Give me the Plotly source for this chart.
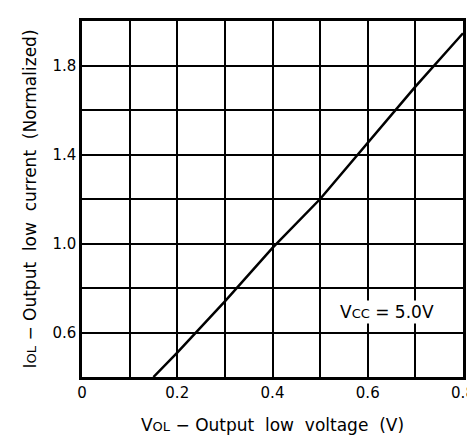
import plotly.graph_objects as go

# Data
vol = [0.15, 0.2, 0.3, 0.4, 0.5, 0.6, 0.7, 0.8]
iol = [0.40, 0.51, 0.74, 0.98, 1.20, 1.455, 1.705, 1.945]

x_tickvals = [0, 0.1, 0.2, 0.3, 0.4, 0.5, 0.6, 0.7, 0.8]
x_ticktext = ["0", "", "0.2", "", "0.4", "", "0.6", "", "0.8"]
y_tickvals = [0.4, 0.6, 0.8, 1.0, 1.2, 1.4, 1.6, 1.8, 2.0]
y_ticktext = ["", "0.6", "", "1.0", "", "1.4", "", "1.8", ""]

FONT = "DejaVu Sans, Liberation Sans, sans-serif"

fig = go.Figure()
fig.add_trace(go.Scatter(x=vol, y=iol, mode="lines",
                         line=dict(color="black", width=2.5), showlegend=False))

small = "<span style='font-size:13px'>%s</span>"
fig.add_annotation(x=0.64, y=0.69, xref="x", yref="y",
                   text="V" + small % "CC" + " = 5.0V",
                   showarrow=False, bgcolor="white",
                   font=dict(family=FONT, size=17, color="black"))

fig.update_layout(
    width=467, height=436,
    margin=dict(l=74, r=12, t=13, b=67),
    paper_bgcolor="white", plot_bgcolor="white",
    font=dict(family=FONT, size=17, color="black"),
    xaxis=dict(range=[0, 0.8], tickvals=x_tickvals, ticktext=x_ticktext,
               showgrid=True, gridcolor="black", gridwidth=1.5,
               showline=True, linecolor="black", linewidth=2.5, mirror=True,
               zeroline=False, ticks="", automargin=False,
               tickfont=dict(size=15),
               title=dict(text="V" + small % "OL" + " − Output  low  voltage  (V)",
                          font=dict(size=17), standoff=19)),
    yaxis=dict(range=[0.4, 2.0], tickvals=y_tickvals, ticktext=y_ticktext,
               showgrid=True, gridcolor="black", gridwidth=1.5,
               showline=True, linecolor="black", linewidth=2.5, mirror=True,
               zeroline=False, ticks="", automargin=False,
               tickfont=dict(size=15),
               title=dict(text="I" + small % "OL" + " − Output  low  current  (Normalized)",
                          font=dict(size=17), standoff=12)),
)

fig.write_html("out.html")
